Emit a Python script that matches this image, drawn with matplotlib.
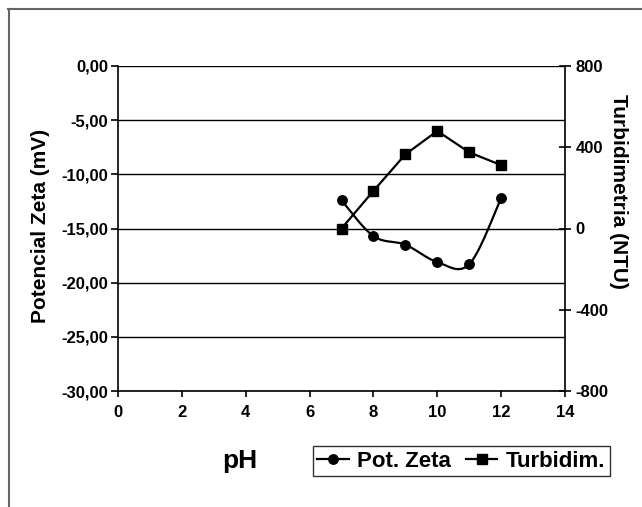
import numpy as np
import matplotlib
matplotlib.use("Agg")
import matplotlib.pyplot as plt
from matplotlib.lines import Line2D
from matplotlib.ticker import FuncFormatter

# Data
ph = [7, 8, 9, 10, 11, 12]
zeta = [-12.4, -15.7, -16.5, -18.1, -18.3, -12.2]
turb = [0, 185, 365, 480, 375, 312]

zeta_ticks = [0, -5, -10, -15, -20, -25, -30]
turb_ticks = [800, 400, 0, -400, -800]
x_ticks = [0, 2, 4, 6, 8, 10, 12, 14]

plt.rcParams['font.family'] = ['Liberation Sans', 'DejaVu Sans']
plt.rcParams['font.weight'] = 'bold'
plt.rcParams['axes.unicode_minus'] = False


def catmull_rom(x, y, n=30):
    x = np.asarray(x, float)
    y = np.asarray(y, float)
    px = np.concatenate([[x[0]], x, [x[-1]]])
    py = np.concatenate([[y[0]], y, [y[-1]]])
    xs, ys = [], []
    t = np.linspace(0, 1, n)
    for i in range(1, len(px) - 2):
        p0, p1, p2, p3 = [np.array([px[j], py[j]]) for j in (i - 1, i, i + 1, i + 2)]
        c1 = p1 + (p2 - p0) / 6
        c2 = p2 - (p3 - p1) / 6
        pts = ((1 - t) ** 3)[:, None] * p1 + (3 * (1 - t) ** 2 * t)[:, None] * c1 \
            + (3 * (1 - t) * t ** 2)[:, None] * c2 + (t ** 3)[:, None] * p2
        xs.extend(pts[:, 0])
        ys.extend(pts[:, 1])
    return np.array(xs), np.array(ys)


fig = plt.figure(figsize=(6.42, 5.07), dpi=100)
ax = fig.add_axes([118 / 642, 1 - 391 / 507, (565 - 118) / 642, (391 - 66) / 507])

ax.set_xlim(0, 14)
ax.set_ylim(-30, 0)
ax.set_xticks(x_ticks)
ax.set_yticks(zeta_ticks)
ax.yaxis.set_major_formatter(FuncFormatter(lambda v, p: f"{v:.2f}".replace('.', ',')))
for yv in zeta_ticks:
    ax.axhline(yv, color='black', lw=1.0, zorder=1)
for s in ['top', 'right']:
    ax.spines[s].set_visible(False)
ax.spines['left'].set_linewidth(1.2)
ax.spines['bottom'].set_linewidth(1.2)
ax.tick_params(axis='y', direction='out', length=5, width=1.2, labelsize=12, pad=2)
ax.tick_params(axis='x', direction='out', length=4, width=1.2, labelsize=12, pad=6)
ax.set_ylabel('Potencial Zeta (mV)', fontsize=15, fontweight='bold')
ax.yaxis.set_label_coords(-(118 - 50) / 447, (391 - 226) / 325)
ax.set_xlabel('pH', fontsize=19, fontweight='bold')
ax.xaxis.set_label_coords((240 - 118) / 447, -58 / 325)

sx, sy = catmull_rom(ph, zeta)
ax.plot(sx, sy, color='black', lw=1.6, zorder=3)
ax.plot(ph, zeta, linestyle='none', marker='o', color='black', markersize=6.8, zorder=4)

ax2 = ax.twinx()
ax2.set_ylim(-800, 800)
ax2.set_yticks(turb_ticks)
for s in ['top', 'left', 'bottom']:
    ax2.spines[s].set_visible(False)
ax2.spines['right'].set_linewidth(1.2)
ax2.tick_params(axis='y', direction='inout', length=9, width=1.2, labelsize=12, pad=3)
ax2.set_ylabel('Turbidimetria (NTU)', fontsize=15, fontweight='bold', rotation=-90)
ax2.yaxis.set_label_coords((628 - 118) / 447, (391 - 191) / 325)
ax2.plot(ph, turb, color='black', lw=1.6, marker='s', markersize=6.8, zorder=4)

handles = [Line2D([], [], color='black', lw=1.6, marker='o', markersize=6.8),
           Line2D([], [], color='black', lw=1.6, marker='s', markersize=6.8)]
leg = fig.legend(handles, ['Pot. Zeta', 'Turbidim.'], loc='lower left',
                 bbox_to_anchor=(313 / 642, 1 - 476 / 507, (610 - 313) / 642, (476 - 440) / 507),
                 ncol=2, frameon=True, fancybox=False, handlelength=1.4,
                 handletextpad=0.4, columnspacing=0.8, borderpad=0.2, borderaxespad=0,
                 mode='expand', prop={'weight': 'bold', 'size': 16})
leg.get_frame().set_edgecolor('black')
leg.get_frame().set_linewidth(1.0)

# outer gray border
fig.add_artist(Line2D([8 / 642, 1], [1 - 8.5 / 507, 1 - 8.5 / 507], transform=fig.transFigure,
                      color='#666666', lw=1.5))
fig.add_artist(Line2D([8.5 / 642, 8.5 / 642], [0, 1 - 8.5 / 507], transform=fig.transFigure,
                      color='#666666', lw=1.5))

fig.savefig('out.png', dpi=100)
